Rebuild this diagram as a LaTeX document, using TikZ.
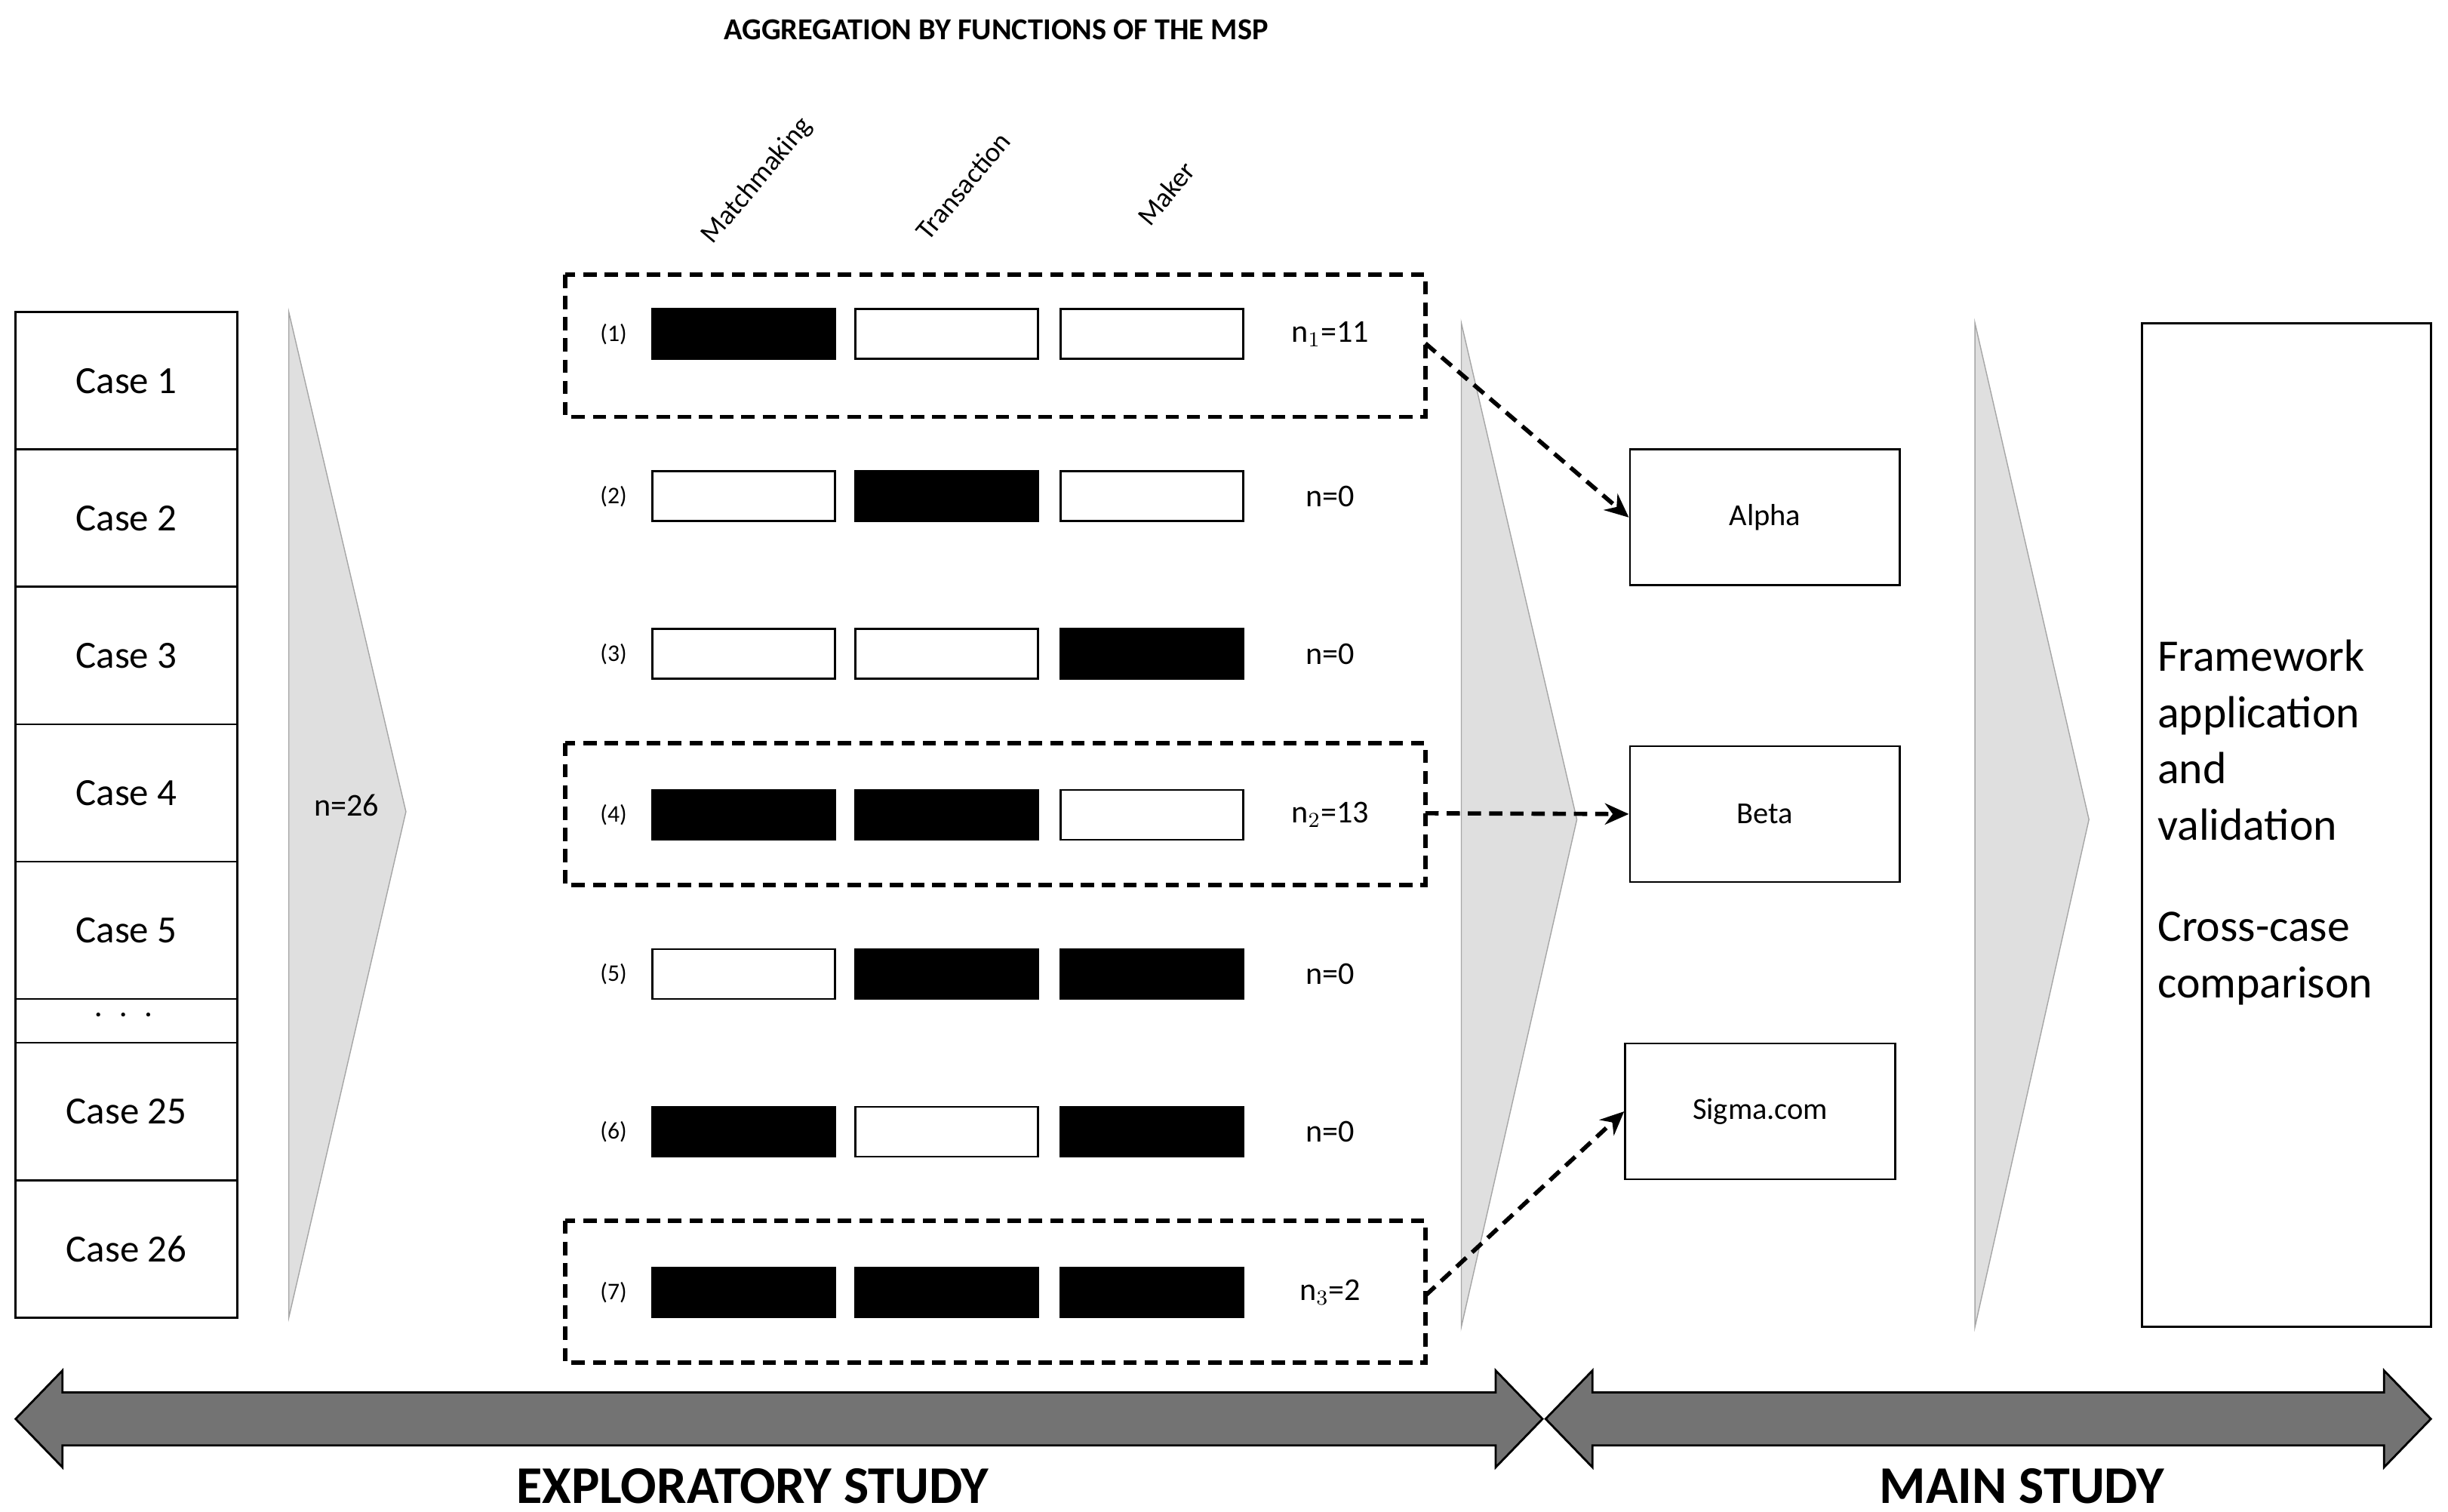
\documentclass[tikz,border=0pt]{standalone}
\usepackage{fontspec}
\setmainfont{Carlito}
\usetikzlibrary{arrows.meta}
\begin{document}
\begin{tikzpicture}[x=0.2069mm,y=-0.2069mm,
  casebox/.style={draw,thick,minimum width=29.4mm,minimum height=18.2mm,font=\fontsize{14.5}{16}\selectfont},
  bar/.style={draw,thick,minimum width=24.2mm,minimum height=6.6mm,inner sep=0pt},
  on/.style={bar,fill=black},
  off/.style={bar,fill=white},
  tri/.style={draw=gray!70,fill=gray!25},
  dbox/.style={draw,line width=1.6pt,dash pattern=on 5pt off 3pt},
  darr/.style={line width=1.6pt,dash pattern=on 5pt off 3pt,-{Stealth[length=9pt,width=8pt]}},
  tgt/.style={draw,thick,minimum width=35.8mm,minimum height=18mm,font=\fontsize{11.5}{13}\selectfont},
  rl/.style={font=\fontsize{9}{10}\selectfont},
  nl/.style={font=\fontsize{12}{14}\selectfont},
  rot/.style={rotate=50,font=\fontsize{10.5}{12}\selectfont},
  big/.style={draw=black,thick,fill=black!55}]
\useasboundingbox (0,0) rectangle (1568,968.6);
\node[font=\bfseries\fontsize{11.5}{13}\selectfont] (title) at (638,19) {AGGREGATION BY FUNCTIONS OF THE MSP};
\node[rot] (lm) at (485,116) {Matchmaking};
\node[rot] (lt) at (617,119) {Transaction};
\node[rot] (lk) at (747,124) {Maker};
% cases
\foreach \n/\y in {1/244,2/332,3/420,4/508,5/596}{\node[casebox] (c\n) at (81,\y) {Case \n};}
\node[draw,thick,minimum width=29.4mm,minimum height=5.8mm,inner sep=0pt] (cd) at (81,654) {};
\node[font=\bfseries] (dots) at (79,650) {.\ \ \ .\ \ \ .};
\node[casebox] (c25) at (81,712) {Case 25};
\node[casebox] (c26) at (81,800) {Case 26};
% triangles
\draw[tri] (185,200) -- (260,520) -- (185,844) -- cycle;
\node[nl] (n26) at (222,516) {n=26};
\draw[tri] (936,207) -- (1010,525) -- (936,850) -- cycle;
\draw[tri] (1265,207) -- (1338,525) -- (1265,850) -- cycle;
% rows
\foreach \i/\y/\a/\b/\c/\t in {1/214/on/off/off/{n$_1$=11},2/318/off/on/off/{n=0},3/419/off/off/on/{n=0},4/522/on/on/off/{n$_2$=13},5/624/off/on/on/{n=0},6/725/on/off/on/{n=0},7/828/on/on/on/{n$_3$=2}}{
  \node[rl] (r\i) at (393,\y) {(\i)};
  \node[\a] (a\i) at (476.5,\y) {};
  \node[\b] (b\i) at (606.5,\y) {};
  \node[\c] (k\i) at (738,\y) {};
  \node[nl] (n\i) at (852,\y) {\t};
}
\draw[dbox] (362,176) rectangle (913,267);
\draw[dbox] (362,476) rectangle (913,567);
\draw[dbox] (362,782) rectangle (913,873);
\coordinate (s1) at (913,220);
\coordinate (s4) at (913,521);
\coordinate (s7) at (913,830);
\node[tgt] (alpha) at (1130.5,331.5) {Alpha};
\node[tgt] (beta) at (1130.5,521.5) {Beta};
\node[tgt] (sigma) at (1127.5,712) {Sigma.com};
\draw[darr] (s1) -- (alpha.west);
\draw[darr] (s4) -- (beta.west);
\draw[darr] (s7) -- (sigma.west);
\node[draw,thick,minimum width=38.3mm,minimum height=133mm] (fw) at (1464.5,528.5) {};
\node[anchor=north west,align=left,font=\fontsize{17}{21.2}\selectfont] (fwt) at (1376,404) {Framework\\application\\and\\validation\\[6mm]Cross-case\\comparison};
% bottom arrows
\draw[big] (10,909) -- (40,878) -- (40,892) -- (958,892) -- (958,878) -- (988,909) -- (958,940) -- (958,926) -- (40,926) -- (40,940) -- cycle;
\draw[big] (990,909) -- (1020,878) -- (1020,892) -- (1527,892) -- (1527,878) -- (1557,909) -- (1527,940) -- (1527,926) -- (1020,926) -- (1020,940) -- cycle;
\node[font=\bfseries\fontsize{20}{24}\selectfont] (ex) at (482,952) {EXPLORATORY STUDY};
\node[font=\bfseries\fontsize{20}{24}\selectfont] (ms) at (1295,952) {MAIN STUDY};
\end{tikzpicture}
\end{document}
